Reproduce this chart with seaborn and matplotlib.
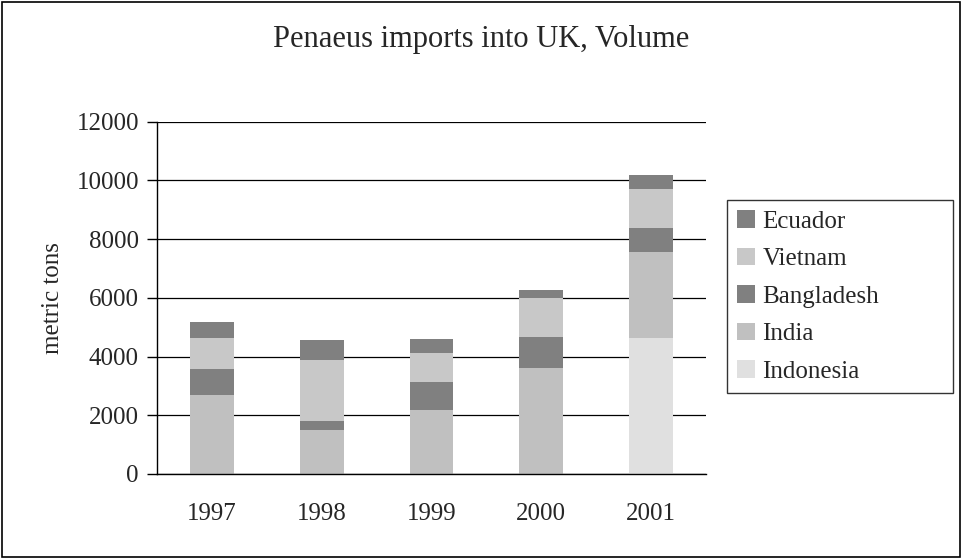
import numpy as np
import pandas as pd
import matplotlib
matplotlib.use("Agg")
import matplotlib.pyplot as plt
from matplotlib.patches import Rectangle, Patch
import seaborn as sns

# Data (metric tons)
years = ["1997", "1998", "1999", "2000", "2001"]
indonesia = [0, 0, 0, 0, 4630]
india = [2675, 1510, 2195, 3600, 2920]
bangladesh = [890, 310, 925, 1065, 815]
vietnam = [1065, 2060, 995, 1340, 1325]
ecuador = [550, 685, 480, 245, 475]

countries = ["Indonesia", "India", "Bangladesh", "Vietnam", "Ecuador"]
series = [indonesia, india, bangladesh, vietnam, ecuador]
colors = ["#E0E0E0", "#C0C0C0", "#808080", "#C8C8C8", "#808080"]

sns.set_style("white")
plt.rcParams["font.family"] = ["Liberation Serif", "DejaVu Serif"]

fig = plt.figure(figsize=(9.62, 5.59), dpi=100)
ax = fig.add_axes([157 / 962, 85 / 559, 549 / 962, 352.5 / 559])

# Stack the bars country by country
bottom = np.zeros(len(years))
for name, vals, col in zip(countries, series, colors):
    df = pd.DataFrame({"year": years, "tons": vals})
    sns.barplot(data=df, x="year", y="tons", color=col, width=0.4,
                bottom=bottom, ax=ax, saturation=1, edgecolor="none",
                linewidth=0, errorbar=None)
    bottom = bottom + np.array(vals)

ax.set_ylim(0, 12000)
ax.set_xlim(-0.5, 4.5)
ax.set_yticks(range(0, 12001, 2000))
ax.yaxis.grid(True, color="black", linewidth=0.9)
ax.set_axisbelow(True)

for side in ["top", "right"]:
    ax.spines[side].set_visible(False)
for side in ["left", "bottom"]:
    ax.spines[side].set_color("black")
    ax.spines[side].set_linewidth(1.0)

# Tick marks between categories on the x axis
ax.set_xticks(np.arange(-0.5, 5, 1.0), minor=True)
ax.tick_params(axis="x", which="minor", length=7, width=1, color="black", direction="out")
ax.tick_params(axis="x", which="major", length=0, pad=21, labelsize=18)
ax.tick_params(axis="y", length=7, width=1, color="black", direction="out", pad=6, labelsize=18, left=True)

ax.set_xlabel("")
ax.set_ylabel("metric tons", fontsize=18, labelpad=9)

fig.text(0.5, 1 - 40 / 559, "Penaeus imports into UK, Volume", ha="center", va="center", fontsize=22)

# Legend (top-down order as in the reference)
handles = [Patch(facecolor=c, edgecolor="none") for c in colors][::-1]
leg = fig.legend(handles, countries[::-1], loc="upper left", mode="expand",
                 bbox_to_anchor=(727 / 962, 1 - 396 / 559, 226 / 962, 196 / 559),
                 bbox_transform=fig.transFigure,
                 frameon=True, fancybox=False, fontsize=18, handlelength=0.7, handleheight=0.7,
                 handletextpad=0.3, labelspacing=0.6, borderpad=0.42, borderaxespad=0)
leg.get_frame().set_edgecolor("black")
leg.get_frame().set_linewidth(1.0)

# Outer chart border
fig.patches.append(Rectangle((2 / 962, 2 / 559), 958 / 962, 555 / 559, transform=fig.transFigure,
                             fill=False, edgecolor="black", linewidth=1.2))

fig.savefig("out.png", dpi=100)
